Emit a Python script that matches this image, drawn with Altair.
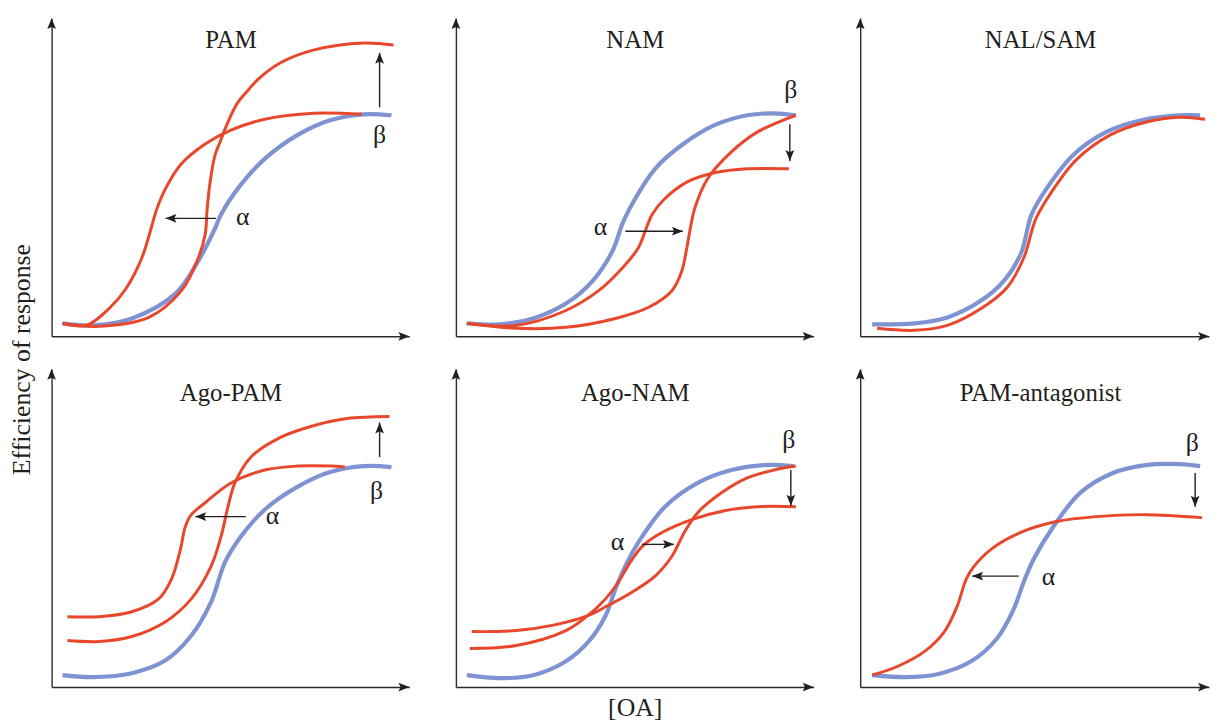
import altair as alt
import pandas as pd

FONT = "Liberation Serif"
BLUE = "#7f93d2"
RED = "#e8472b"
INK = "#231f20"
AXIS = "#2b2b2b"
HEAD = "M0,0L0.8,2L0,1.6L-0.8,2Z"   # arrowhead, tip at the anchor point

H = 321
WIDTHS = [361, 361, 352, 361, 361, 352]
TITLES = ["PAM", "NAM", "NAL/SAM", "Ago-PAM", "Ago-NAM", "PAM-antagonist"]
TITLE_POS = [(181, 299), (181, 299), (182, 299), (181, 297), (181, 297), (182, 297)]

# ---- curves (x: [OA] position, y: efficiency) ----
PAM_BLUE = [(11, 13), (41, 11), (81, 18), (125, 43), (148, 76), (165, 109), (171, 123),
            (191, 153), (215, 179), (248, 203), (281, 218), (315, 224), (343, 223)]
PAM_RED_A = [(11, 13), (35, 11), (58, 28), (75, 48), (91, 79), (101, 111), (106, 128),
             (115, 149), (131, 174), (155, 194), (181, 208), (215, 219), (265, 225), (313, 224)]
PAM_RED_B = [(11, 13), (48, 10), (98, 19), (131, 46), (148, 79), (155, 103), (157, 129),
             (160, 156), (165, 183), (170, 196), (175, 209), (181, 223), (188, 236), (198, 248),
             (208, 259), (231, 276), (265, 289), (315, 296), (345, 294)]

NAM_BLUE = [(11, 13), (44, 12), (78, 18), (111, 33), (138, 56), (158, 86), (169, 116),
            (181, 139), (201, 169), (228, 193), (261, 213), (294, 223), (321, 225), (343, 223)]
NAM_RED_A = [(11, 13), (61, 11), (111, 26), (144, 46), (168, 69), (184, 89), (191, 106),
             (198, 123), (211, 139), (234, 156), (261, 165), (294, 169), (336, 169)]
NAM_RED_B = [(11, 13), (61, 8), (111, 9), (161, 18), (194, 29), (218, 46), (228, 66),
             (233, 89), (236, 106), (241, 129), (254, 159), (278, 186), (304, 206), (343, 223)]

NAL_BLUE = [(12, 12), (55, 13), (88, 19), (122, 36), (145, 56), (162, 83), (173, 123),
            (188, 149), (215, 183), (248, 206), (288, 219), (322, 223), (343, 223)]
NAL_RED = [(17, 8), (55, 6), (88, 11), (122, 28), (148, 49), (165, 79), (177, 118),
           (192, 144), (218, 178), (252, 203), (288, 216), (322, 221), (348, 219)]

AGOPAM_BLUE = [(11, 12), (41, 10), (81, 14), (115, 27), (141, 52), (161, 86), (175, 126),
               (191, 152), (215, 179), (248, 202), (281, 217), (315, 223), (343, 222)]
AGOPAM_RED_A = [(16, 71), (48, 71), (81, 76), (108, 89), (121, 109), (130, 139), (135, 162),
                (141, 174), (155, 186), (181, 206), (215, 219), (248, 223), (281, 223), (296, 222)]
AGOPAM_RED_B = [(16, 47), (48, 46), (81, 51), (115, 66), (141, 89), (161, 122), (171, 152),
                (178, 182), (185, 206), (201, 232), (231, 252), (265, 264), (298, 271), (341, 273)]

AGONAM_BLUE = [(11, 12), (44, 9), (78, 12), (111, 26), (134, 46), (151, 72), (161, 99),
               (171, 122), (188, 152), (211, 182), (244, 206), (278, 219), (311, 224), (341, 223)]
AGONAM_RED_A = [(14, 39), (61, 42), (111, 57), (133, 72), (151, 89), (164, 106), (176, 126),
                (189, 143), (208, 156), (238, 169), (271, 178), (304, 182), (343, 182)]
AGONAM_RED_B = [(16, 56), (61, 57), (101, 63), (133, 72), (153, 82), (178, 96), (201, 112),
                (218, 132), (231, 157), (244, 176), (268, 196), (294, 211), (321, 219), (343, 223)]

ANT_BLUE = [(12, 12), (45, 10), (78, 13), (112, 26), (138, 49), (155, 79), (165, 106),
            (175, 129), (195, 162), (222, 196), (255, 216), (288, 224), (322, 225), (343, 223)]
ANT_RED = [(12, 12), (38, 21), (65, 36), (85, 56), (98, 82), (107, 109), (115, 122),
           (132, 139), (162, 156), (198, 167), (238, 172), (288, 174), (345, 171)]

BLUES = [PAM_BLUE, NAM_BLUE, NAL_BLUE, AGOPAM_BLUE, AGONAM_BLUE, ANT_BLUE]
REDS = [[PAM_RED_A, PAM_RED_B], [NAM_RED_A, NAM_RED_B], [NAL_RED],
        [AGOPAM_RED_A, AGOPAM_RED_B], [AGONAM_RED_A, AGONAM_RED_B], [ANT_RED]]

# ---- annotation arrows (tail -> tip) and Greek labels ----
ARROWS = [
    [(166, 119, 115, 119), (331, 231, 331, 286)],
    [(171, 106, 229, 106), (337, 214, 337, 177)],
    [],
    [(196, 172, 145, 172), (331, 232, 331, 267)],
    [(188, 144, 220, 144), (338, 219, 338, 183)],
    [(160, 112, 113, 112), (338, 216, 338, 182)],
]
GREEK = [
    [("α", 193, 120), ("β", 331, 203)],
    [("α", 146, 110), ("β", 338, 248)],
    [],
    [("α", 223, 173), ("β", 328, 198)],
    [("α", 163, 146), ("β", 336, 249)],
    [("α", 190, 111), ("β", 335, 246)],
]


def direction(x1, y1, x2, y2):
    if x2 > x1:
        return 90
    if x2 < x1:
        return 270
    return 0 if y2 > y1 else 180


def panel(i):
    W = WIDTHS[i]
    xtitle = "[OA]" if i == 4 else None
    xaxis = alt.Axis(title=xtitle, ticks=False, labels=False, grid=False,
                     domainColor=AXIS, domainWidth=1.4,
                     titleFont=FONT, titleFontSize=26, titleFontWeight="normal",
                     titleColor=INK, titlePadding=8)
    yaxis = alt.Axis(title=None, ticks=False, labels=False, grid=False,
                     domainColor=AXIS, domainWidth=1.4)
    X = lambda f="x": alt.X(f"{f}:Q", scale=alt.Scale(domain=[0, W], nice=False, zero=False), axis=xaxis)
    Y = lambda f="y": alt.Y(f"{f}:Q", scale=alt.Scale(domain=[0, H], nice=False, zero=False), axis=yaxis)

    layers = []
    blue = pd.DataFrame(BLUES[i], columns=["x", "y"])
    layers.append(alt.Chart(blue).mark_line(color=BLUE, strokeWidth=4.2, interpolate="catmull-rom")
                  .encode(x=X(), y=Y()))
    rows = []
    for k, c in enumerate(REDS[i]):
        for j, (x, y) in enumerate(c):
            rows.append({"curve": k, "i": j, "x": x, "y": y})
    red = pd.DataFrame(rows)
    layers.append(alt.Chart(red).mark_line(color=RED, strokeWidth=3, interpolate="catmull-rom")
                  .encode(x=X(), y=Y(), detail="curve:N", order="i:Q"))

    # axis arrowheads
    heads = [{"x": W, "y": 0, "angle": 90}, {"x": 0, "y": H, "angle": 0}]
    if ARROWS[i]:
        arr = pd.DataFrame(ARROWS[i], columns=["x", "y", "x2", "y2"])
        layers.append(alt.Chart(arr).mark_rule(color=INK, strokeWidth=1.4)
                      .encode(x=X(), y=Y(), x2="x2:Q", y2="y2:Q"))
        for (x1, y1, x2, y2) in ARROWS[i]:
            heads.append({"x": x2, "y": y2, "angle": direction(x1, y1, x2, y2)})
    hd = pd.DataFrame(heads)
    layers.append(alt.Chart(hd).mark_point(shape=HEAD, filled=True, size=121, color=INK,
                                            opacity=1, strokeWidth=0)
                  .encode(x=X(), y=Y(), angle=alt.Angle("angle:Q", scale=None)))

    texts = [{"t": TITLES[i], "x": TITLE_POS[i][0], "y": TITLE_POS[i][1], "s": 25}]
    for (t, x, y) in GREEK[i]:
        texts.append({"t": t, "x": x, "y": y, "s": 26})
    tx = pd.DataFrame(texts)
    layers.append(alt.Chart(tx).mark_text(font=FONT, color=INK, align="center", baseline="middle")
                  .encode(x=X(), y=Y(), text="t:N", size=alt.Size("s:Q", scale=None)))

    return alt.layer(*layers).properties(width=W, height=H)


row1 = alt.hconcat(panel(0), panel(1), panel(2), spacing=42)
row2 = alt.hconcat(panel(3), panel(4), panel(5), spacing=42)
chart = alt.vconcat(row1, row2, spacing=28).properties(
    title=alt.TitleParams("Efficiency of response", orient="left", anchor="middle",
                          font=FONT, fontSize=26, fontWeight="normal", color=INK, offset=12,
                          dx=10),
    padding={"left": 1, "top": 7, "right": 0, "bottom": 0},
).configure_view(stroke=None)

chart.save("out.html", embed_options={"renderer": "svg", "actions": False})
